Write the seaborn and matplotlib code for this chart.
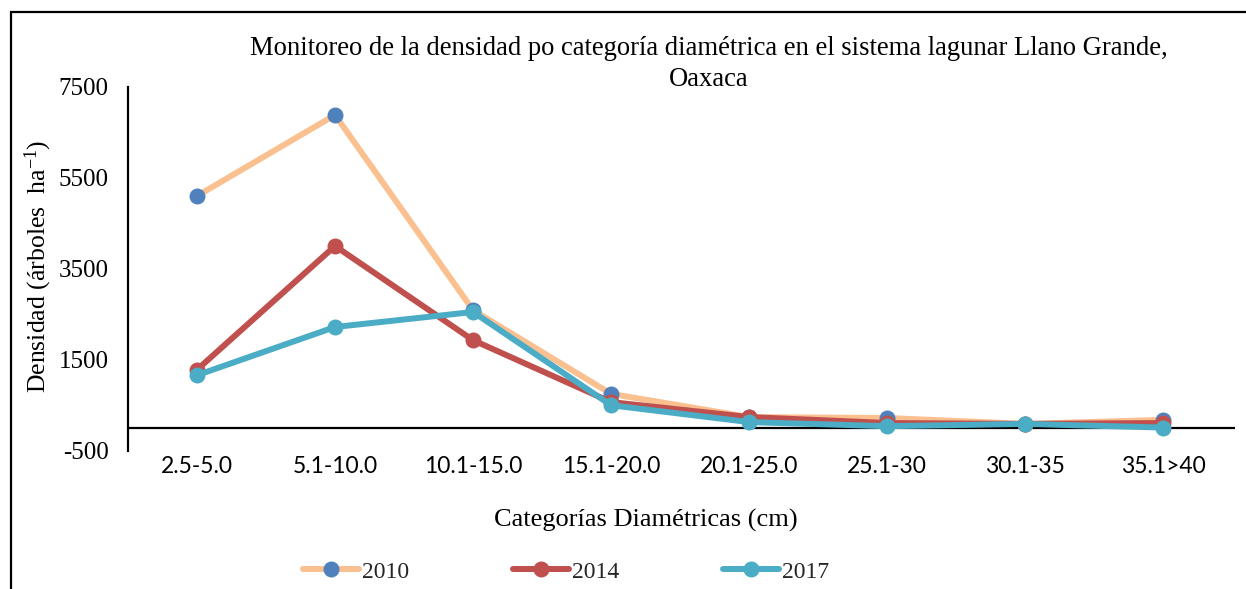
import matplotlib
matplotlib.use("Agg")
import matplotlib.pyplot as plt
from matplotlib.lines import Line2D
from matplotlib.patches import Rectangle
import pandas as pd
import seaborn as sns

# Diameter classes (cm) and tree density per year (trees per hectare)
categorias = ["2.5-5.0", "5.1-10.0", "10.1-15.0", "15.1-20.0",
              "20.1-25.0", "25.1-30", "30.1-35", "35.1>40"]
dens_2010 = [5100, 6880, 2590, 750, 240, 220, 90, 180]
dens_2014 = [1280, 4000, 1930, 570, 240, 110, 90, 110]
dens_2017 = [1160, 2220, 2550, 500, 130, 40, 90, 10]
anios = ["2010", "2014", "2017"]
y_ticks = [-500, 1500, 3500, 5500, 7500]

sns.set_theme(style="white")
serif = ["Liberation Serif", "DejaVu Serif"]
plt.rcParams["font.family"] = serif
plt.rcParams["mathtext.fontset"] = "custom"
plt.rcParams["mathtext.rm"] = "Liberation Serif"
plt.rcParams["mathtext.it"] = "Liberation Serif:italic"

df = pd.DataFrame({
    "categoria": categorias * 3,
    "densidad": dens_2010 + dens_2014 + dens_2017,
    "anio": [a for a in anios for _ in categorias],
})

estilos = {
    "2010": dict(line="#FAC090", marker="#4F81BD"),
    "2014": dict(line="#C0504D", marker="#C0504D"),
    "2017": dict(line="#4BACC6", marker="#4BACC6"),
}

fig = plt.figure(figsize=(12.46, 5.89), dpi=100)
ax = fig.add_axes([0.1027, 0.2347, 0.8885, 0.618])

for anio in anios:
    sub = df[df["anio"] == anio]
    st = estilos[anio]
    sns.lineplot(data=sub, x="categoria", y="densidad", ax=ax, sort=False,
                 color=st["line"], linewidth=4.3, marker="o", markersize=11.5,
                 markerfacecolor=st["marker"], markeredgecolor=st["marker"],
                 markeredgewidth=0, zorder=3)

ax.set_xlim(-0.5, 7.52)
ax.set_ylim(-500, 7500)
ax.set_yticks(y_ticks)
ax.set_yticklabels([str(v) for v in y_ticks], fontsize=18)
ax.set_xticks(range(len(categorias)))
ax.set_xticklabels(categorias, fontsize=16.5, family=["Lato", "DejaVu Sans"])
ax.tick_params(axis="x", length=0, pad=4)
ax.tick_params(axis="y", length=0, pad=14)
for lab in ax.get_xticklabels() + ax.get_yticklabels():
    lab.set_color("black")

for side in ["top", "right", "bottom"]:
    ax.spines[side].set_visible(False)
ax.spines["left"].set_color("black")
ax.spines["left"].set_linewidth(1.6)
ax.axhline(0, color="black", linewidth=1.6, zorder=2)

ax.set_xlabel("")
ax.set_ylabel("")
fig.text(0.031, 0.548, "Densidad (árboles  ha$^{-1}$)", rotation=90,
         ha="center", va="center", fontsize=18.5, color="black")
fig.text(0.518, 0.117, "Categorías Diamétricas (cm)", ha="center",
         va="center", fontsize=19, color="black")
fig.text(0.569, 0.8913,
         "Monitoreo de la densidad po categoría diamétrica en el sistema lagunar Llano Grande,\nOaxaca",
         ha="center", va="center", multialignment="center", fontsize=19.2,
         color="black", linespacing=1.3)

handles = [Line2D([0], [0], color=estilos[a]["line"], linewidth=4.3,
                  marker="o", markersize=11.5, markerfacecolor=estilos[a]["marker"],
                  markeredgewidth=0, solid_capstyle="round") for a in anios]
fig.legend(handles, anios, loc="center", bbox_to_anchor=(0.454, 0.029),
           ncol=3, frameon=False, fontsize=17, handlelength=2.4,
           handletextpad=0.1, columnspacing=4.4)

fig.add_artist(Rectangle((11 / 1246, -0.05), 1.2, 1.05 - 12 / 589,
                         transform=fig.transFigure, fill=False,
                         edgecolor="black", linewidth=1.6))

fig.savefig("out.png", dpi=100, facecolor="white")
